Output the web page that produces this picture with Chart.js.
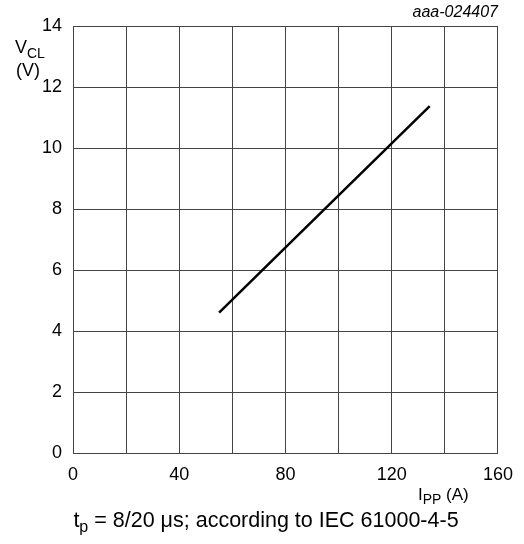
<!DOCTYPE html>
<html>
<head>
<meta charset="utf-8">
<script src="https://cdn.jsdelivr.net/npm/chart.js@4.4.1/dist/chart.umd.min.js"></script>
<style>
  html, body { margin: 0; padding: 0; background: #fff; }
  #wrap { width: 524px; height: 544px; position: relative; }
</style>
</head>
<body>
<div id="wrap"><canvas id="chart"></canvas></div>
<script>
// clamping voltage vs peak pulse current
const ippValues = [55, 95, 134.3];
const vclValues = [4.6, 8.02, 11.37];

const xTicks = [0, 40, 80, 120, 160];
const yTicks = [0, 2, 4, 6, 8, 10, 12, 14];

const FONT = "'Liberation Sans', Arial, sans-serif";
const GRID = "#444";

// axis titles, diagram code and caption, drawn with subscripts
const labelsPlugin = {
    id: "labels",
    afterDraw(chart) {
        const ctx = chart.ctx;
        const area = chart.chartArea;
        ctx.save();
        ctx.fillStyle = "#000";
        ctx.textBaseline = "alphabetic";
        ctx.textAlign = "left";

        function sub(x, y, main, small, size) {
            const s2 = Math.round(size * 0.8);
            ctx.font = size + "px " + FONT;
            const w1 = ctx.measureText(main).width;
            ctx.fillText(main, x, y);
            ctx.font = s2 + "px " + FONT;
            const w2 = ctx.measureText(small).width;
            ctx.fillText(small, x + w1, y + size * 0.25);
            return x + w1 + w2;
        }

        // y axis title
        sub(15, 53, "V", "CL", 18);
        ctx.font = "18px " + FONT;
        ctx.fillText("(V)", 16, 76);

        // x axis title
        const end = sub(418, 500, "I", "PP", 17);
        ctx.font = "17px " + FONT;
        ctx.fillText(" (A)", end, 500);

        // diagram code
        ctx.font = "italic 16px " + FONT;
        ctx.textAlign = "right";
        ctx.fillText("aaa-024407", area.right, 17);

        // caption
        const cap = " = 8/20 \u03bcs; according to IEC 61000-4-5";
        ctx.textAlign = "left";
        ctx.font = "21.5px " + FONT;
        const wt = ctx.measureText("t").width;
        const wc = ctx.measureText(cap).width;
        ctx.font = "16px " + FONT;
        const wp = ctx.measureText("p").width;
        const x0 = 266 - (wt + wp + wc) / 2;
        ctx.font = "21.5px " + FONT;
        ctx.fillText("t", x0, 527);
        ctx.font = "16px " + FONT;
        ctx.fillText("p", x0 + wt, 532);
        ctx.font = "21.5px " + FONT;
        ctx.fillText(cap, x0 + wt + wp, 527);
        ctx.restore();
    }
};

new Chart(document.getElementById("chart"), {
    type: "scatter",
    data: {
        datasets: [{
            data: ippValues.map((x, i) => ({ x: x, y: vclValues[i] })),
            showLine: true,
            borderColor: "#000",
            borderWidth: 2.5,
            pointRadius: 0,
            tension: 0,
            fill: false
        }]
    },
    options: {
        responsive: true,
        maintainAspectRatio: false,
        animation: false,
        layout: { padding: { left: 0, right: 24, top: 26, bottom: 0 } },
        plugins: {
            legend: { display: false },
            tooltip: { enabled: false }
        },
        scales: {
            x: {
                type: "linear",
                min: 0,
                max: 160,
                afterFit(scale) { scale.height = 91; },
                ticks: {
                    stepSize: 20,
                    autoSkip: false,
                    maxRotation: 0,
                    padding: 11,
                    color: "#000",
                    font: { family: FONT, size: 18 },
                    callback: v => xTicks.includes(v) ? String(v) : ""
                },
                grid: { color: GRID, lineWidth: 1, drawTicks: false },
                border: { color: GRID, width: 1 }
            },
            y: {
                type: "linear",
                min: 0,
                max: 14,
                afterFit(scale) { scale.width = 73; },
                afterBuildTicks(scale) {
                    scale.ticks = yTicks.map(v => ({ value: v }));
                },
                ticks: {
                    padding: 11,
                    color: "#000",
                    font: { family: FONT, size: 18 }
                },
                grid: { color: GRID, lineWidth: 1, drawTicks: false },
                border: { color: GRID, width: 1 }
            }
        }
    },
    plugins: [labelsPlugin]
});
</script>
</body>
</html>
